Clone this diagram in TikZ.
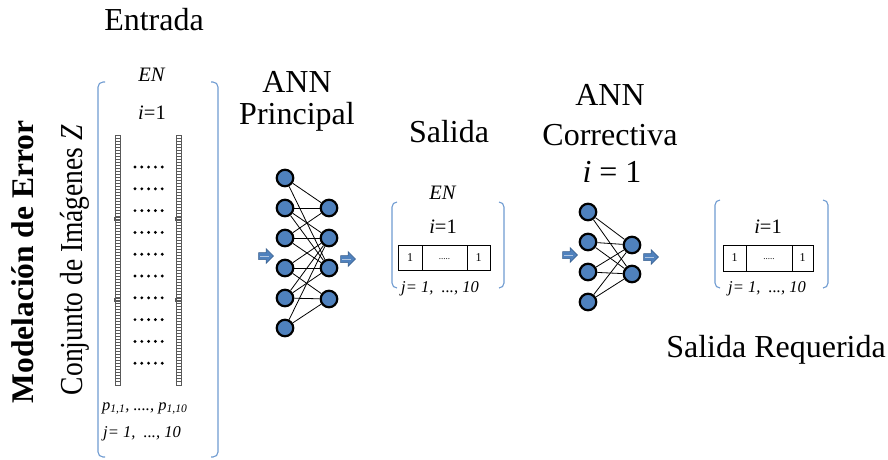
\documentclass[tikz,border=0pt]{standalone}
\usepackage{fontspec}
\setmainfont{Liberation Serif}
\definecolor{nblue}{HTML}{4F81BD}
\definecolor{bline}{HTML}{385D8A}
\definecolor{brk}{HTML}{6F9BD1}
\begin{document}
\begin{tikzpicture}[x=1pt,y=-1pt,
  bigtxt/.style={font=\fontsize{32}{36}\selectfont, anchor=base, inner sep=0},
  midtxt/.style={font=\fontsize{20.5}{24}\selectfont, anchor=base, inner sep=0},
  jtxt/.style={font=\fontsize{16.5}{19}\selectfont\itshape, anchor=base, inner sep=0},
  celltxt/.style={font=\fontsize{12}{14}\selectfont, inner sep=0},
  bracket/.style={draw=brk, line width=1.1pt, rounded corners=5pt},
  neuron/.style={circle, draw=black, line width=2.2pt, fill=nblue, minimum size=16.5pt, inner sep=0},
  link/.style={draw=black, line width=0.8pt},
  ladder/.style={draw=black!65, line width=0.4pt},
  barrow/.pic={
    \draw[fill=nblue, draw=bline, line width=0.5pt]
      (-7.5,-3.5) -- (0,-3.5) -- (0,-7.5) -- (7.5,0) -- (0,7.5) -- (0,3.5) -- (-7.5,3.5) -- cycle;
    \draw[white!55!nblue, line width=1pt] (-6,0) -- (3,0);
  }
]
\useasboundingbox (0,0) rectangle (888,459);

% ---------- headings ----------
\node[bigtxt] (entrada) at (154,30) {Entrada};
\node[bigtxt, font=\fontsize{31.5}{36}\selectfont\bfseries, rotate=90] (model) at (33,262) {Modelación de Error};
\node[bigtxt, rotate=90] (conj) at (82,260) {\scalebox{0.86}[1]{Conjunto de Imágenes \textit{Z}}};
\node[bigtxt] (ann1a) at (297,92) {ANN};
\node[bigtxt] (ann1b) at (297,124) {Principal};
\node[bigtxt] (salida) at (449,142) {Salida};
\node[bigtxt] (ann2a) at (610,105) {ANN};
\node[bigtxt] (ann2b) at (610,145) {Correctiva};
\node[bigtxt] (ann2c) at (612,182) {\textit{i} = 1};
\node[bigtxt] (req) at (776,357) {Salida Requerida};

% ---------- input set ----------
\draw[bracket] (105,82) -- (98,82) -- (98,457) -- (105,457);
\draw[bracket] (211,82) -- (218,82) -- (218,457) -- (211,457);
\node[midtxt] (en1) at (152,81) {\textit{EN}};
\node[midtxt] (i1) at (152,119.5) {\textit{i}=1};
\foreach \xl in {115,176}{
  \draw[ladder] (\xl,135) rectangle (\xl+5,385);
  \foreach \yy in {138,141,...,383} \draw[ladder] (\xl,\yy) -- (\xl+5,\yy);
  \draw[ladder] (\xl-0.6,217.5) rectangle (\xl+5.6,220.5);
  \draw[ladder] (\xl-0.6,298.5) rectangle (\xl+5.6,301.5);
}
\foreach \r in {0,...,9}{
  \foreach \c in {0,...,4}{
    \fill (135+\c*6.8,167+\r*21.8) circle (1.6pt);
  }
}
\node[jtxt, anchor=base west] (plab) at (102,410) {p\textsubscript{1,1}, ...., p\textsubscript{1,10}};
\node[jtxt, anchor=base west] (jlab1) at (103,437) {j= 1, \ ..., 10};

% ---------- main ANN ----------
\foreach \i/\yy in {1/178,2/208,3/238,4/268,5/298,6/328}
  \node[neuron] (a\i) at (285,\yy) {};
\foreach \i/\yy in {1/208,2/238,3/268,4/299}
  \node[neuron] (b\i) at (329,\yy) {};
\foreach \s/\t in {1/1,1/3,2/1,2/2,2/3,3/1,3/2,3/3,4/2,4/3,4/4,5/2,5/3,5/4,6/2,6/4}
  \draw[link] (a\s) -- (b\t);
\pic at (266,256) {barrow};
\pic at (348,259) {barrow};

% ---------- Salida ----------
\draw[bracket] (397,202) -- (392,202) -- (392,288) -- (397,288);
\draw[bracket] (499,202) -- (504,202) -- (504,288) -- (499,288);
\node[midtxt] (en2) at (443,199) {\textit{EN}};
\node[midtxt] (i2) at (443,233.5) {\textit{i}=1};
\draw[line width=0.9pt] (398,245) rectangle (490,270);
\draw[line width=0.9pt] (422,245) -- (422,270) (467,245) -- (467,270);
\node[celltxt] (c21) at (410,258) {1};
\node[celltxt, font=\fontsize{9}{10}\selectfont] (c22) at (444.5,259) {.....};
\node[celltxt] (c23) at (478.5,258) {1};
\node[jtxt] (jlab2) at (440,292) {j= 1, \ ..., 10};

% ---------- corrective ANN ----------
\foreach \i/\yy in {1/212,2/242,3/272,4/302}
  \node[neuron] (c\i) at (588,\yy) {};
\foreach \i/\yy in {1/245,2/274}
  \node[neuron] (d\i) at (632,\yy) {};
\foreach \s in {1,...,4}{
  \foreach \t in {1,2} \draw[link] (c\s) -- (d\t);
}
\pic at (570,255) {barrow};
\pic at (651,257) {barrow};

% ---------- required output ----------
\draw[bracket] (720,200) -- (715,200) -- (715,288) -- (720,288);
\draw[bracket] (823,200) -- (828,200) -- (828,288) -- (823,288);
\node[midtxt] (i3) at (768,233.5) {\textit{i}=1};
\draw[line width=0.9pt] (723,245) rectangle (813,271);
\draw[line width=0.9pt] (746,245) -- (746,271) (792,245) -- (792,271);
\node[celltxt] (c31) at (734.5,258) {1};
\node[celltxt, font=\fontsize{9}{10}\selectfont] (c32) at (769,259) {.....};
\node[celltxt] (c33) at (802.5,258) {1};
\node[jtxt] (jlab3) at (767,292) {j= 1, \ ..., 10};
\end{tikzpicture}
\end{document}
